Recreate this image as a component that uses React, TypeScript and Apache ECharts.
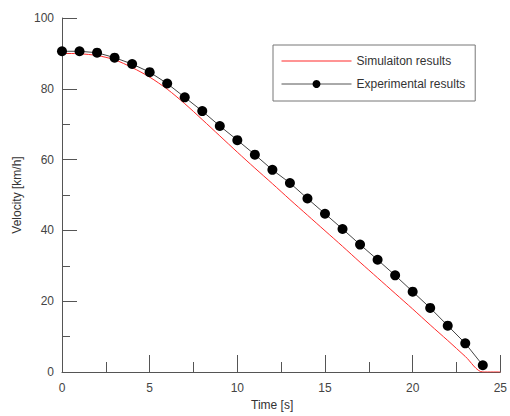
import React, { useEffect, useRef } from "react";
import * as echarts from "echarts";

const simTime = [0, 1, 2, 3, 4, 5, 6, 7, 8, 9, 10, 11, 12, 13, 14, 15, 16, 17, 18, 19, 20, 21, 22, 23, 24, 25];
const simVelocity = [90.0, 89.9, 89.4, 88.2, 86.0, 83.3, 79.9, 75.8, 71.3, 66.7, 62.1, 57.6, 53.2, 48.7, 44.3, 39.9, 35.5, 31.0, 26.6, 22.2, 17.8, 13.3, 8.9, 4.4, 0.0, 0.0];

const expTime = [0, 1, 2, 3, 4, 5, 6, 7, 8, 9, 10, 11, 12, 13, 14, 15, 16, 17, 18, 19, 20, 21, 22, 23, 24];
const expVelocity = [90.6, 90.6, 90.2, 88.8, 87.0, 84.7, 81.5, 77.6, 73.7, 69.5, 65.5, 61.4, 57.1, 53.4, 49.0, 44.7, 40.4, 36.0, 31.7, 27.3, 22.7, 18.1, 13.1, 8.1, 1.9];

const seriesNames = ["Simulaiton results", "Experimental results"];
const xTitle = "Time [s]";
const yTitle = "Velocity [km/h]";

const FONT = "'Liberation Sans', Arial, sans-serif";

export default function App() {
  const ref = useRef<HTMLDivElement>(null);

  useEffect(() => {
    if (!ref.current) return;
    const chart = echarts.init(ref.current, undefined, { renderer: "svg" });
    const axisColor = "#555";
    const labelColor = "#444";
    chart.setOption({
      animation: false,
      backgroundColor: "#ffffff",
      textStyle: { fontFamily: FONT },
      grid: { left: 62, right: 9, top: 18, bottom: 41, containLabel: false },
      legend: {
        orient: "vertical",
        left: 273,
        top: 45,
        data: [
          { name: seriesNames[0], icon: "path://M0,0 M70,10 M0,4.5 L70,4.5 L70,5.5 L0,5.5 Z" },
          { name: seriesNames[1], lineStyle: { width: 1, color: "#555" } },
        ],
        borderColor: "#777",
        borderWidth: 1,
        padding: [10, 10, 11, 8],
        itemWidth: 70,
        itemHeight: 10,
        itemGap: 11,
        textStyle: { fontSize: 12, color: "#333", fontFamily: FONT },
      },
      xAxis: {
        type: "value",
        min: 0,
        max: 25,
        interval: 5,
        name: xTitle,
        nameLocation: "middle",
        nameGap: 27,
        nameTextStyle: { fontSize: 12, color: "#333", fontFamily: FONT, padding: [0, 18, 0, 0] },
        axisLine: { show: true, lineStyle: { color: axisColor, width: 1 } },
        axisTick: { show: true, inside: true, length: 17, lineStyle: { color: axisColor } },
        minorTick: { show: true, splitNumber: 2, length: 10, lineStyle: { color: axisColor } },
        axisLabel: { fontSize: 12, color: labelColor, margin: 10, fontFamily: FONT },
        splitLine: { show: false },
      },
      yAxis: {
        type: "value",
        min: 0,
        max: 100,
        interval: 20,
        name: yTitle,
        nameLocation: "middle",
        nameGap: 37,
        nameTextStyle: { fontSize: 12, color: "#333", fontFamily: FONT },
        axisLine: { show: true, lineStyle: { color: axisColor, width: 1 } },
        axisTick: { show: true, inside: true, length: 15, lineStyle: { color: axisColor } },
        minorTick: { show: true, splitNumber: 2, length: 8, lineStyle: { color: axisColor } },
        axisLabel: { fontSize: 12, color: labelColor, margin: 8, fontFamily: FONT },
        splitLine: { show: false },
      },
      series: [
        {
          name: seriesNames[0],
          type: "line",
          data: simTime.map((t, i) => [t, simVelocity[i]]),
          smooth: 0.3,
          showSymbol: false,
          symbol: "none",
          lineStyle: { color: "#ff2a2a", width: 1 },
          itemStyle: { color: "#ff2a2a" },
          z: 2,
        },
        {
          name: seriesNames[1],
          type: "line",
          data: expTime.map((t, i) => [t, expVelocity[i]]),
          symbol: "circle",
          symbolSize: 10,
          lineStyle: { color: "#444", width: 1 },
          itemStyle: { color: "#000" },
          z: 3,
        },
      ],
    });
    return () => chart.dispose();
  }, []);

  return (
    <div
      ref={ref}
      style={{ position: "fixed", left: 0, top: 0, width: 510, height: 416, background: "#fff" }}
    />
  );
}
